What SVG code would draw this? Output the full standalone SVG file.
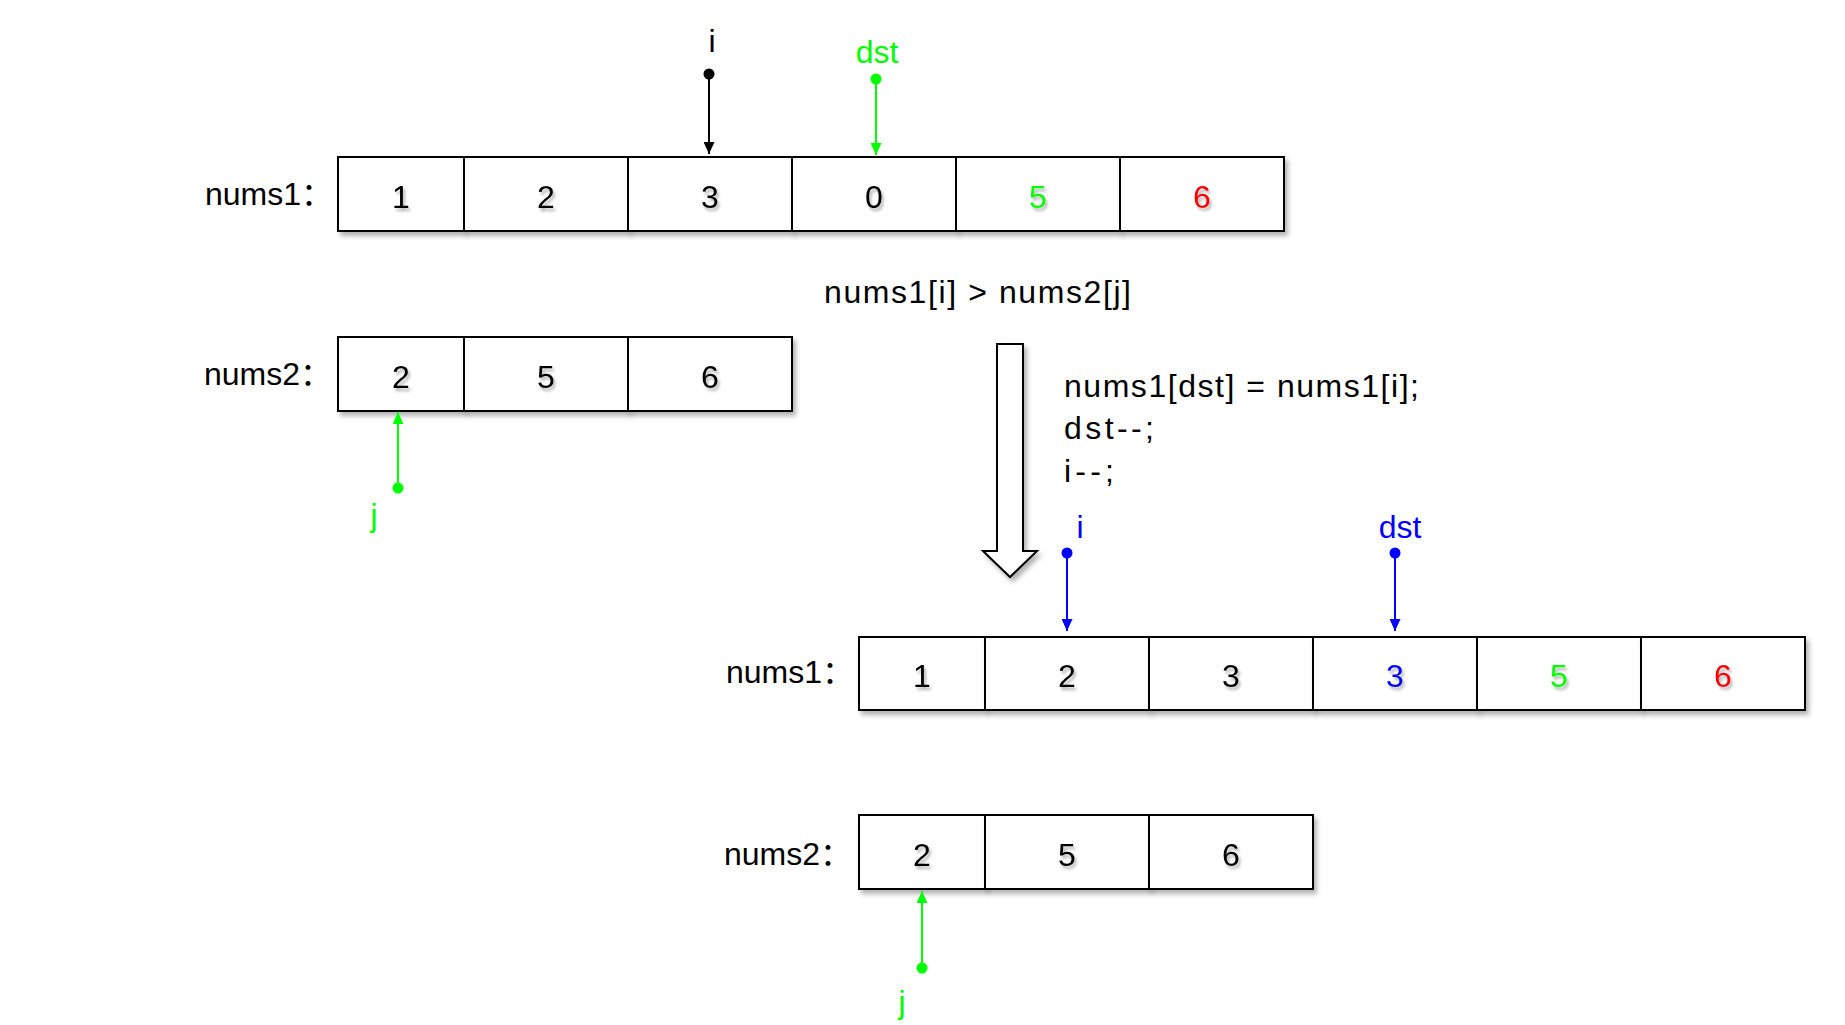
<svg xmlns="http://www.w3.org/2000/svg" width="1845" height="1025" viewBox="0 0 1845 1025">
<style>
  .cell { fill: #ffffff; stroke: #000000; stroke-width: 2; filter: url(#sh); }
  .num { font-family: "Liberation Sans", "Noto Sans CJK SC", sans-serif; font-size: 32px; text-anchor: middle; filter: url(#tsh); }
  .lbl { font-family: "Liberation Sans", "Noto Sans CJK SC", sans-serif; font-size: 32px; fill: #000000; }
  .ptr { font-family: "Liberation Sans", sans-serif; font-size: 32px; text-anchor: middle; }
  .k { fill: #000000; }
  .g { fill: #00ff00; }
  .r { fill: #ff0000; }
  .b { fill: #0000ff; }
  .ln { stroke-width: 2; fill: none; }
</style>
<defs>
  <filter id="sh" x="-10%" y="-20%" width="130%" height="150%">
    <feDropShadow dx="3" dy="4" stdDeviation="2.5" flood-color="#000000" flood-opacity="0.3"/>
  </filter>
  <filter id="tsh" x="-30%" y="-30%" width="170%" height="170%">
    <feDropShadow dx="2" dy="3" stdDeviation="1.5" flood-color="#000000" flood-opacity="0.3"/>
  </filter>
  <marker id="ak" markerUnits="userSpaceOnUse" markerWidth="12" markerHeight="11" refX="12" refY="5.5" orient="auto"><path d="M0,0 L12,5.5 L0,11 z" fill="#000000"/></marker>
  <marker id="ag" markerUnits="userSpaceOnUse" markerWidth="12" markerHeight="11" refX="12" refY="5.5" orient="auto"><path d="M0,0 L12,5.5 L0,11 z" fill="#00ff00"/></marker>
  <marker id="ab" markerUnits="userSpaceOnUse" markerWidth="12" markerHeight="11" refX="12" refY="5.5" orient="auto"><path d="M0,0 L12,5.5 L0,11 z" fill="#0000ff"/></marker>
</defs>
<rect width="1845" height="1025" fill="#ffffff"/>

<g id="top-nums1">
  <text class="lbl" x="205" y="205">nums1：</text>
  <rect class="cell" x="338" y="157" width="126" height="74"/>
  <rect class="cell" x="464" y="157" width="164" height="74"/>
  <rect class="cell" x="628" y="157" width="164" height="74"/>
  <rect class="cell" x="792" y="157" width="164" height="74"/>
  <rect class="cell" x="956" y="157" width="164" height="74"/>
  <rect class="cell" x="1120" y="157" width="164" height="74"/>
  <text class="num k" x="401" y="208">1</text>
  <text class="num k" x="546" y="208">2</text>
  <text class="num k" x="710" y="208">3</text>
  <text class="num k" x="874" y="208">0</text>
  <text class="num g" x="1038" y="208">5</text>
  <text class="num r" x="1202" y="208">6</text>
</g>

<g id="top-nums2">
  <text class="lbl" x="204" y="385">nums2：</text>
  <rect class="cell" x="338" y="337" width="126" height="74"/>
  <rect class="cell" x="464" y="337" width="164" height="74"/>
  <rect class="cell" x="628" y="337" width="164" height="74"/>
  <text class="num k" x="401" y="388">2</text>
  <text class="num k" x="546" y="388">5</text>
  <text class="num k" x="710" y="388">6</text>
</g>

<g id="condition">
  <text class="lbl" x="824" y="303" textLength="307" lengthAdjust="spacing">nums1[i] &gt; nums2[j]</text>
</g>

<g id="step-arrow">
  <polygon points="997,344 1023,344 1023,551 1037,551 1010,577 983,551 997,551" fill="#ffffff" stroke="#000000" stroke-width="2" filter="url(#sh)"/>
</g>

<g id="code">
  <text class="lbl" x="1064" y="397" textLength="355" lengthAdjust="spacing">nums1[dst] = nums1[i];</text>
  <text class="lbl" x="1064" y="439" textLength="90" lengthAdjust="spacing">dst--;</text>
  <text class="lbl" x="1064" y="482" textLength="50" lengthAdjust="spacing">i--;</text>
</g>

<g id="bottom-nums1">
  <text class="lbl" x="726" y="683">nums1：</text>
  <rect class="cell" x="859" y="637" width="126" height="73"/>
  <rect class="cell" x="985" y="637" width="164" height="73"/>
  <rect class="cell" x="1149" y="637" width="164" height="73"/>
  <rect class="cell" x="1313" y="637" width="164" height="73"/>
  <rect class="cell" x="1477" y="637" width="164" height="73"/>
  <rect class="cell" x="1641" y="637" width="164" height="73"/>
  <text class="num k" x="922" y="687">1</text>
  <text class="num k" x="1067" y="687">2</text>
  <text class="num k" x="1231" y="687">3</text>
  <text class="num b" x="1395" y="687">3</text>
  <text class="num g" x="1559" y="687">5</text>
  <text class="num r" x="1723" y="687">6</text>
</g>

<g id="bottom-nums2">
  <text class="lbl" x="724" y="865">nums2：</text>
  <rect class="cell" x="859" y="815" width="126" height="74"/>
  <rect class="cell" x="985" y="815" width="164" height="74"/>
  <rect class="cell" x="1149" y="815" width="164" height="74"/>
  <text class="num k" x="922" y="866">2</text>
  <text class="num k" x="1067" y="866">5</text>
  <text class="num k" x="1231" y="866">6</text>
</g>

<g id="pointer-labels">
  <text class="ptr k" x="712" y="52">i</text>
  <text class="ptr g" x="877" y="63">dst</text>
  <text class="ptr g" x="374" y="526">j</text>
  <text class="ptr b" x="1080" y="538">i</text>
  <text class="ptr b" x="1400" y="538">dst</text>
  <text class="ptr g" x="902" y="1013">j</text>
</g>

<g id="connectors">
  <line class="ln" x1="709" y1="74" x2="709" y2="154" stroke="#000000" marker-end="url(#ak)"/>
  <circle cx="709" cy="74" r="5.5" fill="#000000"/>
  <line class="ln" x1="876" y1="79" x2="876" y2="155" stroke="#00ff00" marker-end="url(#ag)"/>
  <circle cx="876" cy="79" r="5.5" fill="#00ff00"/>
  <line class="ln" x1="398" y1="488" x2="398" y2="412" stroke="#00ff00" marker-end="url(#ag)"/>
  <circle cx="398" cy="488" r="5.5" fill="#00ff00"/>
  <line class="ln" x1="1067" y1="553" x2="1067" y2="631" stroke="#0000ff" marker-end="url(#ab)"/>
  <circle cx="1067" cy="553" r="5.5" fill="#0000ff"/>
  <line class="ln" x1="1395" y1="553" x2="1395" y2="631" stroke="#0000ff" marker-end="url(#ab)"/>
  <circle cx="1395" cy="553" r="5.5" fill="#0000ff"/>
  <line class="ln" x1="922" y1="968" x2="922" y2="891" stroke="#00ff00" marker-end="url(#ag)"/>
  <circle cx="922" cy="968" r="5.5" fill="#00ff00"/>
</g>
</svg>
